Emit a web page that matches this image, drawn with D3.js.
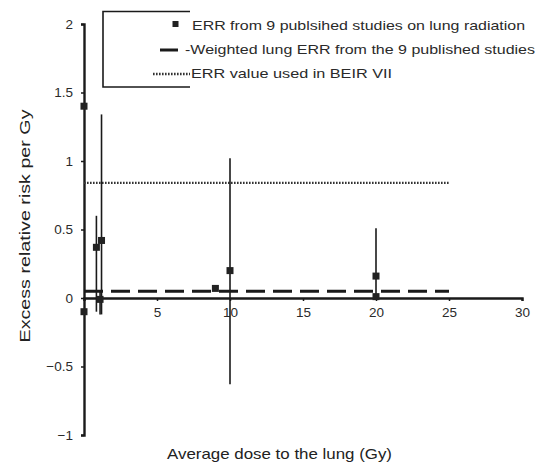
<!DOCTYPE html>
<html>
<head>
<meta charset="utf-8">
<script src="https://cdn.jsdelivr.net/npm/d3@7"></script>
<style>
  html, body { margin: 0; padding: 0; background: #fff; }
  svg { display: block; font-family: "Liberation Sans", Arial, sans-serif; }
</style>
</head>
<body>
<svg id="chart" width="538" height="466"></svg>
<script>
// Study results: mean lung dose (Gy), ERR per Gy, and confidence bounds (null = not shown)
const doses   = [0,    0.85, 1.2,   1.1,   9,    10,    20,   20,   0];
const errs    = [1.4,  0.37, 0.42,  -0.01, 0.07, 0.2,   0.16, 0.01, -0.1];
const errLow  = [null, -0.1, -0.12, -0.12, null, -0.63, 0.0,  null, null];
const errHigh = [null, 0.6,  1.34,  0.05,  null, 1.02,  0.51, null, null];

// Reference levels
const weightedERR = 0.05;
const beirERR = 0.84;
const refLineEnd = 25;

// Axis ticks
const xTicks = [0, 5, 10, 15, 20, 25, 30];
const yTicks = [-1, -0.5, 0, 0.5, 1, 1.5, 2];

const legendLabels = [
  "ERR from 9 publsihed studies on lung radiation",
  "-Weighted lung ERR from the 9 published studies",
  "ERR value used in BEIR VII"
];

const svg = d3.select("#chart");
const ink = "#1a1a1a";
const textInk = "#2a2a2a";

const x = d3.scaleLinear().domain([0, 30]).range([84, 522]);
const y = d3.scaleLinear().domain([-1, 2]).range([435, 24]);

// Y axis through x = 0
const yAxis = svg.append("g")
  .attr("transform", `translate(${x(0)},0)`)
  .call(d3.axisLeft(y).tickValues(yTicks).tickSize(3).tickPadding(8)
    .tickFormat(d => d3.format("")(d).replace("-", "\u2212")));
yAxis.select(".domain").attr("stroke", ink).attr("stroke-width", 2.4);
yAxis.selectAll(".tick line").attr("stroke", ink).attr("stroke-width", 1.5);
yAxis.selectAll(".tick text").attr("font-size", 13.5).attr("fill", textInk)
  .attr("font-family", "Liberation Sans, Arial, sans-serif");

// X axis through y = 0 (origin label omitted, the y axis carries it)
const xAxis = svg.append("g")
  .attr("transform", `translate(0,${y(0)})`)
  .call(d3.axisBottom(x).tickValues(xTicks).tickSize(3).tickPadding(6)
    .tickFormat(d => d === 0 ? "" : d));
xAxis.select(".domain").attr("stroke", ink).attr("stroke-width", 2.4);
xAxis.selectAll(".tick line").attr("stroke", ink).attr("stroke-width", 1.5);
xAxis.selectAll(".tick text").attr("font-size", 13.5).attr("fill", textInk)
  .attr("font-family", "Liberation Sans, Arial, sans-serif");

// BEIR VII reference (dotted)
svg.append("line")
  .attr("x1", x(0)).attr("x2", x(refLineEnd))
  .attr("y1", y(beirERR)).attr("y2", y(beirERR))
  .attr("stroke", "#333").attr("stroke-width", 2.4)
  .attr("stroke-dasharray", "1.6,1.4");

// Weighted ERR (long dashes)
svg.append("line")
  .attr("x1", x(0)).attr("x2", x(refLineEnd))
  .attr("y1", y(weightedERR)).attr("y2", y(weightedERR))
  .attr("stroke", ink).attr("stroke-width", 3)
  .attr("stroke-dasharray", "19,8");

// Error bars
const pts = doses.map((d, i) => ({ d, v: errs[i], lo: errLow[i], hi: errHigh[i] }));
svg.append("g").selectAll("line")
  .data(pts.filter(p => p.lo !== null))
  .join("line")
  .attr("x1", p => x(p.d)).attr("x2", p => x(p.d))
  .attr("y1", p => y(p.hi)).attr("y2", p => y(p.lo))
  .attr("stroke", ink).attr("stroke-width", 1.6);

// Study markers
const ms = 7;
svg.append("g").selectAll("rect")
  .data(pts)
  .join("rect")
  .attr("x", p => x(p.d) - ms / 2).attr("y", p => y(p.v) - ms / 2)
  .attr("width", ms).attr("height", ms)
  .attr("fill", "#222");

// Legend (open frame)
const lg = svg.append("g");
lg.append("path")
  .attr("d", "M190,11.5 H103 V87 H190")
  .attr("fill", "none").attr("stroke", ink).attr("stroke-width", 1.6);
lg.append("rect").attr("x", 172.5).attr("y", 21).attr("width", 6).attr("height", 6).attr("fill", "#222");
lg.append("line").attr("x1", 160).attr("x2", 178).attr("y1", 50).attr("y2", 50)
  .attr("stroke", ink).attr("stroke-width", 3);
lg.append("line").attr("x1", 153).attr("x2", 190).attr("y1", 74).attr("y2", 74)
  .attr("stroke", "#333").attr("stroke-width", 2.4).attr("stroke-dasharray", "1.6,1.4");
const lx = [192, 185, 191];
const ly = [29.5, 53.5, 77.5];
const lw = [333, 350, 201];
lg.selectAll("text.lab")
  .data(legendLabels)
  .join("text")
  .attr("class", "lab")
  .attr("x", (d, i) => lx[i]).attr("y", (d, i) => ly[i])
  .attr("textLength", (d, i) => lw[i]).attr("lengthAdjust", "spacingAndGlyphs")
  .attr("font-size", 12.8).attr("fill", textInk)
  .text(d => d);

// Axis titles
svg.append("text")
  .attr("x", 279.5).attr("y", 459)
  .attr("text-anchor", "middle").attr("font-size", 15).attr("fill", "#222")
  .attr("textLength", 225).attr("lengthAdjust", "spacingAndGlyphs")
  .text("Average dose to the lung (Gy)");
svg.append("text")
  .attr("transform", "translate(30,226) rotate(-90)")
  .attr("text-anchor", "middle").attr("font-size", 15.5).attr("fill", "#222")
  .attr("textLength", 233).attr("lengthAdjust", "spacingAndGlyphs")
  .text("Excess relative risk per Gy");
</script>
</body>
</html>
